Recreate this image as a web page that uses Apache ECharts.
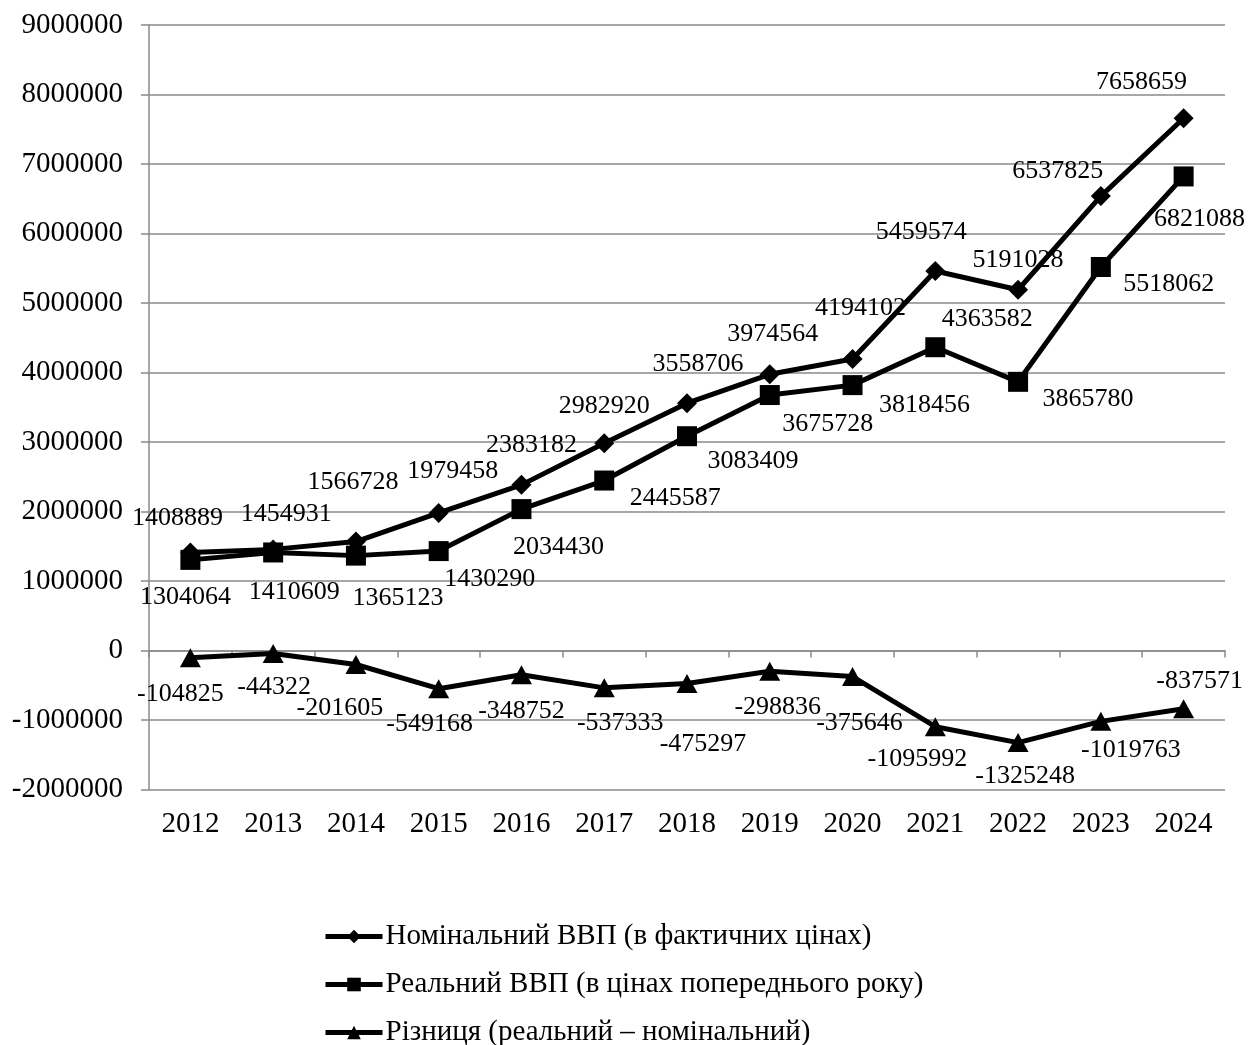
<!DOCTYPE html>
<html>
<head>
<meta charset="utf-8">
<style>
  html, body { margin: 0; padding: 0; background: #fff; }
  #chart { width: 1249px; height: 1045px; }
</style>
<script src="https://cdn.jsdelivr.net/npm/echarts@6/dist/echarts.min.js"></script>
</head>
<body>
<div id="chart"></div>
<script>
// Years on the category axis
const years = ['2012', '2013', '2014', '2015', '2016', '2017', '2018', '2019', '2020', '2021', '2022', '2023', '2024'];

// Nominal GDP (current prices)
const nominalGdp = [1408889, 1454931, 1566728, 1979458, 2383182, 2982920, 3558706, 3974564, 4194102, 5459574, 5191028, 6537825, 7658659];

// Real GDP (previous-year prices)
const realGdp = [1304064, 1410609, 1365123, 1430290, 2034430, 2445587, 3083409, 3675728, 3818456, 4363582, 3865780, 5518062, 6821088];

// Difference (real - nominal)
const gdpDiff = [-104825, -44322, -201605, -549168, -348752, -537333, -475297, -298836, -375646, -1095992, -1325248, -1019763, -837571];

// Series names
const seriesNames = [
  'Номінальний ВВП (в фактичних цінах)',
  'Реальний ВВП (в цінах попереднього року)',
  'Різниця (реальний – номінальний)'
];

// Value axis range and step
const yMin = -2000000;
const yMax = 9000000;
const yStep = 1000000;

// Per-point label offsets (pixels from the marker centre)
const nominalLabelOffsets = [[-13,-34],[13,-35],[-3,-59],[14,-42],[10,-40],[0,-37],[11,-39],[3,-40],[8,-51],[-14,-39],[0,-30],[-43,-25],[-42,-36]];
const realLabelOffsets = [[-5,37],[21,40],[42,43],[51,28],[37,38],[71,18],[66,25],[58,29],[72,20],[52,-28],[70,17],[68,17],[16,43]];
const diffLabelOffsets = [[-10,36],[1,34],[-16,44],[-9,36],[0,36],[16,35],[16,61],[8,36],[7,47],[-18,33],[7,34],[30,29],[16,-28]];

const FONT = "'Liberation Serif', 'Times New Roman', serif";
const GRID_GRAY = '#8a8a8a';

function withLabels(values, offsets) {
  return values.map((v, i) => ({
    value: v,
    label: { offset: offsets[i] }
  }));
}

function lineSeries(name, values, offsets, symbol, size) {
  return {
    name: name,
    type: 'line',
    xAxisIndex: 0,
    data: withLabels(values, offsets),
    symbol: symbol,
    symbolSize: size,
    showAllSymbol: true,
    lineStyle: { color: '#000', width: 5 },
    itemStyle: { color: '#000' },
    label: {
      show: true,
      position: 'inside',
      align: 'center',
      verticalAlign: 'middle',
      color: '#000',
      fontFamily: FONT,
      fontSize: 26
    },
    emphasis: { disabled: true },
    animation: false
  };
}

const chart = echarts.init(document.getElementById('chart'), null, { renderer: 'canvas' });

chart.setOption({
  backgroundColor: '#fff',
  animation: false,
  grid: { left: 149, right: 24, top: 25, bottom: 255.5, containLabel: false },
  xAxis: [
    {
      type: 'category',
      data: years,
      position: 'bottom',
      boundaryGap: true,
      axisLine: { show: true, onZero: true, lineStyle: { color: GRID_GRAY, width: 1.5 } },
      axisTick: { show: true, interval: 0, length: 7, lineStyle: { color: GRID_GRAY, width: 1.5 } },
      axisLabel: { show: false },
      splitLine: { show: false }
    },
    {
      type: 'category',
      data: years,
      position: 'bottom',
      boundaryGap: true,
      axisLine: { show: false, onZero: false },
      axisTick: { show: false },
      axisLabel: {
        show: true,
        interval: 0,
        margin: 20,
        color: '#000',
        fontFamily: FONT,
        fontSize: 29
      },
      splitLine: { show: false }
    }
  ],
  yAxis: {
    type: 'value',
    min: yMin,
    max: yMax,
    interval: yStep,
    axisLine: { show: true, lineStyle: { color: GRID_GRAY, width: 1.5 } },
    axisTick: { show: true, length: 8, lineStyle: { color: GRID_GRAY, width: 1.5 } },
    axisLabel: {
      margin: 26,
      color: '#000',
      fontFamily: FONT,
      fontSize: 29,
      formatter: v => String(v)
    },
    splitLine: { show: true, lineStyle: { color: GRID_GRAY, width: 1.5 } }
  },
  legend: {
    orient: 'vertical',
    left: 323,
    top: 922,
    height: 140,
    padding: 0,
    itemWidth: 57,
    itemHeight: 17,
    itemGap: 19,
    data: seriesNames,
    lineStyle: { width: 5 },
    textStyle: { color: '#000', fontFamily: FONT, fontSize: 29, padding: [0, 0, 0, -2] },
    selectedMode: false
  },
  series: [
    lineSeries(seriesNames[0], nominalGdp, nominalLabelOffsets, 'diamond', 20),
    lineSeries(seriesNames[1], realGdp, realLabelOffsets, 'rect', 20),
    lineSeries(seriesNames[2], gdpDiff, diffLabelOffsets, 'triangle', [21, 19])
  ]
});
</script>
</body>
</html>
